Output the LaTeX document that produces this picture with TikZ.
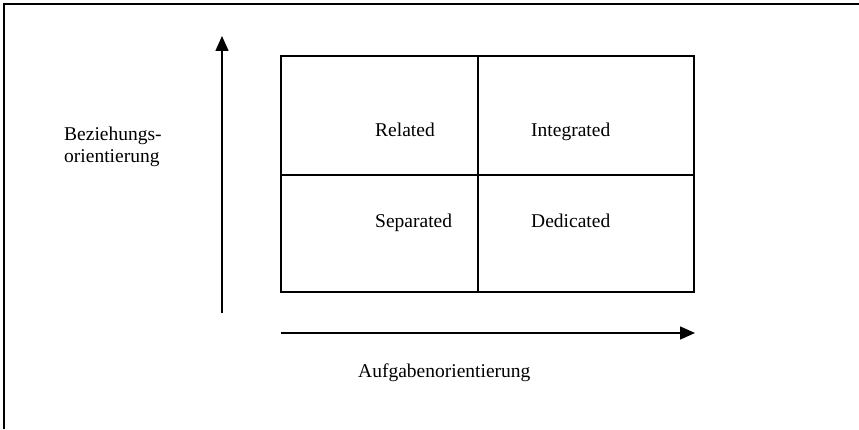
\documentclass[tikz,border=0pt]{standalone}
\usepackage{fontspec}
\setmainfont{Liberation Serif}
\usetikzlibrary{arrows.meta}
\begin{document}
\begin{tikzpicture}[x=1pt,y=1pt,
  line/.style={line width=1.6pt,line cap=rect},
  axis/.style={line width=1.6pt,-{Triangle[length=15pt,width=13pt]}},
  lbl/.style={inner sep=0pt,anchor=base west,font=\fontsize{19.5}{22}\selectfont}]
\useasboundingbox (0,0) rectangle (859,429);
% outer frame (cut off at right and bottom)
\draw[line width=1.8pt] (4,0) -- (4,425) -- (859,425);
% grid
\draw[line] (281,137) rectangle (694,373);
\draw[line] (478,137) -- (478,373);
\draw[line] (281,254) -- (694,254);
% axes
\coordinate (vs) at (222,116);
\coordinate (ve) at (222,393);
\coordinate (hs) at (281,96);
\coordinate (he) at (695,96);
\draw[axis] (vs) -- (ve);
\draw[axis] (hs) -- (he);
% labels
\node[lbl] (rel) at (375,292) {Related};
\node[lbl] (sep) at (375,202) {Separated};
\node[lbl] (int) at (531,292) {Integrated};
\node[lbl] (ded) at (531,202) {Dedicated};
\node[lbl] (auf) at (358,52) {Aufgabenorientierung};
\node[lbl] (bez1) at (64,288) {Beziehungs-};
\node[lbl] (bez2) at (64,266) {orientierung};
\end{tikzpicture}
\end{document}
